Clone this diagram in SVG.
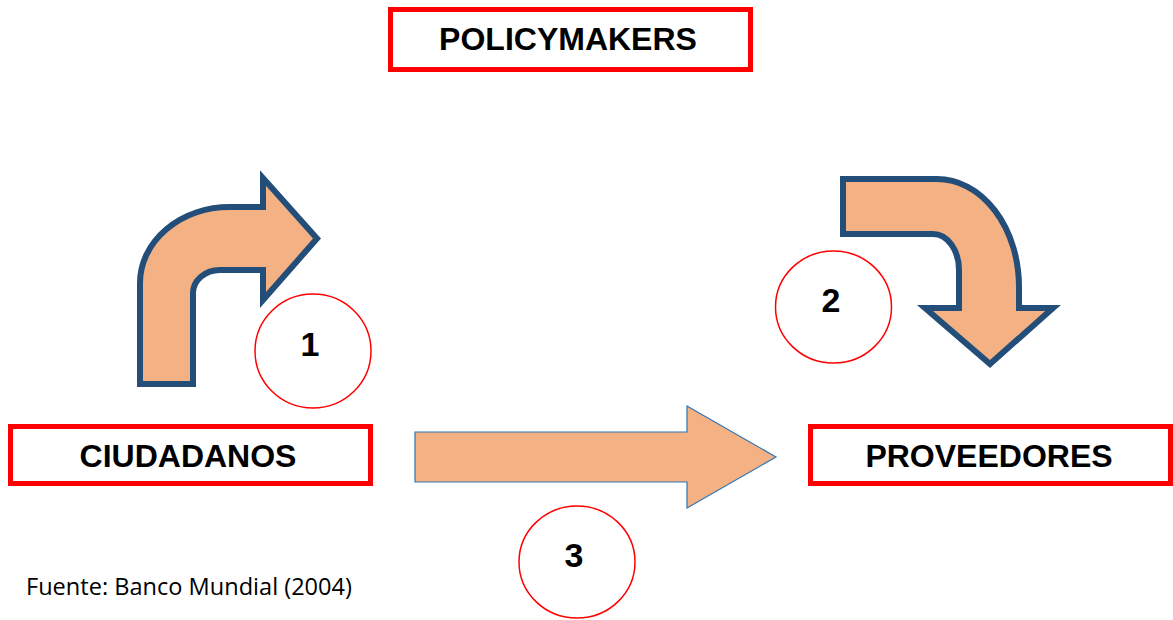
<svg xmlns="http://www.w3.org/2000/svg" width="1173" height="620" viewBox="0 0 1173 620">
  <style>
    .box { fill: #FFFFFF; stroke: #FF0000; stroke-width: 5; }
    .label { font-family: "Liberation Sans", Arial, sans-serif; font-weight: bold; font-size: 32px; fill: #000000; text-anchor: middle; }
    .num { font-family: "Liberation Sans", Arial, sans-serif; font-weight: bold; font-size: 34px; fill: #000000; text-anchor: middle; }
    .badge { fill: #FFFFFF; stroke: #FF0000; stroke-width: 1.5; }
    .bent { fill: #F4B183; stroke: #234E79; stroke-width: 6; stroke-linejoin: miter; }
    .straight { fill: #F4B183; stroke: #2E75B6; stroke-width: 1.2; }
    .source { font-family: "Open Sans", "Liberation Sans", sans-serif; font-size: 24px; fill: #000000; }
  </style>

  <rect width="1173" height="620" fill="#FFFFFF"/>

  <!-- actors -->
  <g id="policymakers">
    <rect class="box" x="390.5" y="9.5" width="360" height="60"/>
    <text class="label" x="568" y="50">POLICYMAKERS</text>
  </g>
  <g id="ciudadanos">
    <rect class="box" x="10.5" y="426.5" width="360" height="57"/>
    <text class="label" x="188" y="467">CIUDADANOS</text>
  </g>
  <g id="proveedores">
    <rect class="box" x="810.5" y="426.5" width="360" height="57"/>
    <text class="label" x="989" y="467">PROVEEDORES</text>
  </g>

  <!-- flows between actors -->
  <g id="connectors">
    <path class="bent" d="M140,384 L140,283 A90,76 0 0 1 230,207 L263,207 L263,178 L317,238.5 L263,300 L263,270 L220,270 A27,23 0 0 0 193,293 L193,384 Z"/>
    <path class="bent" d="M843,179 L937,179 A82,108 0 0 1 1019,287 L1019,308 L1053,308 L990,364 L925,308 L959,308 L959,270 A26,36 0 0 0 933,234 L843,234 Z"/>
    <path class="straight" d="M415,432 L687,432 L687,406 L776,457 L687,508 L687,482 L415,482 Z"/>
  </g>

  <!-- numbered badges -->
  <g id="badge-1">
    <ellipse class="badge" cx="313" cy="351" rx="58" ry="57"/>
    <text class="num" x="310" y="356">1</text>
  </g>
  <g id="badge-2">
    <ellipse class="badge" cx="833.5" cy="307" rx="58" ry="56"/>
    <text class="num" x="831" y="312">2</text>
  </g>
  <g id="badge-3">
    <ellipse class="badge" cx="577" cy="562" rx="58" ry="56"/>
    <text class="num" x="574" y="567">3</text>
  </g>

  <text class="source" x="26" y="595" textLength="326" lengthAdjust="spacingAndGlyphs">Fuente: Banco Mundial (2004)</text>
</svg>
